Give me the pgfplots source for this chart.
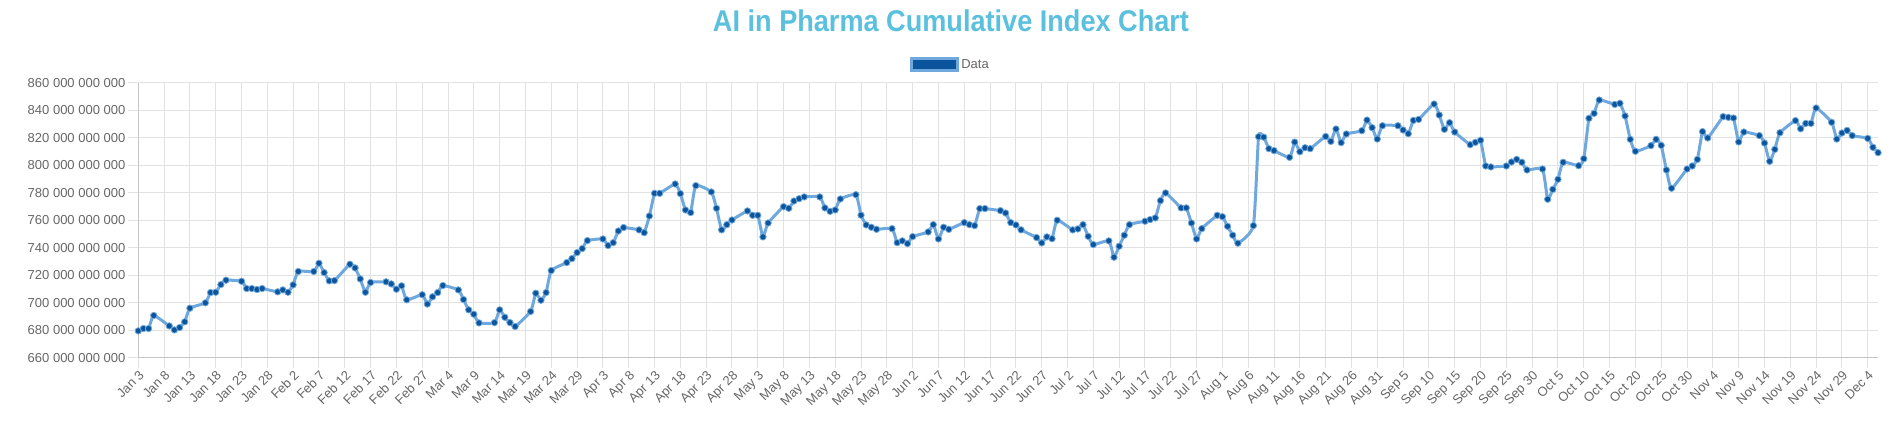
\documentclass[border=0pt]{standalone}
\usepackage{fontspec}
\setmainfont{Liberation Sans}
\newfontfamily\titlefont{Liberation Sans}
\usepackage{graphicx}
\usepackage{pgfplots}
\pgfplotsset{compat=1.18}

\definecolor{lineblue}{RGB}{111,168,220}
\definecolor{dotblue}{RGB}{12,84,155}
\definecolor{titleblue}{RGB}{91,192,222}
\definecolor{tickgray}{RGB}{102,102,102}
\definecolor{gridgray}{RGB}{226,226,226}

% d = days after Jan 3, v = index value (in 1e9)
\pgfplotstableread{
d v
0 679.4
1 681.1
2 681.1
3 690.6
6 683.0
7 680.1
8 681.8
9 686.0
10 695.9
13 699.8
14 707.3
15 707.5
16 713.1
17 716.3
20 715.5
21 710.2
22 710.2
23 709.5
24 710.2
27 707.8
28 709.2
29 707.5
30 712.9
31 722.6
34 722.6
35 728.6
36 721.8
37 715.8
38 716.0
41 727.9
42 725.2
43 717.2
44 707.5
45 714.6
48 715.1
49 713.6
50 709.7
51 712.2
52 702.0
55 705.7
56 698.9
57 704.2
58 707.3
59 712.4
62 709.2
63 702.2
64 694.7
65 691.5
66 685.2
69 685.4
70 694.7
71 689.3
72 685.4
73 682.6
76 693.5
77 706.8
78 701.7
79 707.3
80 723.3
83 729.1
84 732.0
85 736.4
86 739.3
87 745.1
90 746.3
91 741.5
92 743.6
93 752.1
94 754.6
97 752.9
98 750.9
99 763.0
100 779.5
101 779.5
104 786.3
105 779.3
106 767.4
107 765.5
108 785.1
111 780.5
112 768.6
113 752.9
114 756.7
115 760.1
118 766.7
119 763.5
120 763.5
121 747.8
122 757.9
125 769.8
126 768.6
127 773.9
128 775.6
129 776.9
132 776.9
133 768.9
134 766.4
135 767.4
136 775.4
139 778.5
140 763.6
141 756.5
142 754.8
143 753.3
146 753.8
147 743.6
148 744.9
149 742.9
150 748.0
153 751.4
154 756.7
155 746.3
156 754.8
157 753.3
160 758.2
161 756.7
162 756.0
163 768.4
164 768.4
167 766.9
168 765.2
169 758.2
170 756.5
171 752.9
174 747.3
175 743.4
176 747.8
177 746.5
178 759.9
181 752.9
182 753.6
183 756.7
184 748.2
185 742.2
188 744.9
189 733.0
190 741.0
191 749.0
192 756.7
195 759.2
196 760.4
197 761.6
198 774.2
199 779.8
202 768.9
203 768.9
204 757.9
205 746.3
206 753.8
209 763.5
210 762.5
211 755.5
212 749.0
213 743.2
216 756.0
217 820.7
218 820.4
219 812.0
220 810.6
223 805.7
224 816.8
225 809.8
226 812.7
227 812.0
230 820.9
231 817.3
232 826.3
233 816.4
234 822.7
237 825.1
238 832.8
239 827.3
240 819.0
241 828.7
244 828.7
245 825.6
246 822.9
247 832.6
248 833.3
251 844.5
252 836.5
253 826.1
254 830.9
255 824.1
258 814.9
259 816.6
260 818.1
261 799.4
262 798.7
265 799.4
266 802.3
267 804.2
268 802.1
269 796.5
272 797.2
273 775.2
274 782.4
275 789.7
276 802.1
279 799.6
280 804.7
281 834.1
282 837.7
283 847.4
286 844.2
287 845.0
288 835.8
289 818.8
290 810.1
293 814.2
294 818.8
295 814.4
296 796.5
297 783.2
300 797.2
301 799.4
302 804.2
303 824.4
304 819.8
307 835.3
308 834.8
309 834.3
310 816.9
311 824.1
314 821.5
315 816.1
316 802.8
317 811.5
318 823.6
321 832.4
322 826.5
323 830.4
324 830.4
325 841.6
328 831.2
329 819.0
330 823.4
331 825.3
332 821.5
335 819.5
336 813.0
337 809.1
}\indexdata

\begin{document}
\begin{tikzpicture}
\path[use as bounding box] (0,0) rectangle (1426.5pt,317.25pt);
\node[text=titleblue, inner sep=0pt] at (713.25pt,302pt)
  {\resizebox{357pt}{\height}{\titlefont\bfseries\fontsize{22.5pt}{27pt}\selectfont AI in Pharma Cumulative Index Chart}};
\begin{axis}[
    at={(103.7pt,49.1pt)}, anchor=south west,
    width=1304.8pt, height=206.1pt, scale only axis,
    xmin=0, xmax=337, ymin=660, ymax=860,
    axis x line*=bottom, axis y line*=left,
    axis line style={-, draw=gray!45, line width=0.75pt},
    grid=major,
    major grid style={draw=gridgray, line width=0.75pt},
    tick align=outside, major tick length=7.5pt,
    tick style={draw=gridgray, line width=0.75pt},
    ytick={660,680,...,860},
    yticklabels={660 000 000 000,680 000 000 000,700 000 000 000,720 000 000 000,740 000 000 000,760 000 000 000,780 000 000 000,800 000 000 000,820 000 000 000,840 000 000 000,860 000 000 000},
    xtick={0,5,...,335},
    xticklabels={Jan 3,Jan 8,Jan 13,Jan 18,Jan 23,Jan 28,Feb 2,Feb 7,Feb 12,Feb 17,Feb 22,Feb 27,Mar 4,Mar 9,Mar 14,Mar 19,Mar 24,Mar 29,Apr 3,Apr 8,Apr 13,Apr 18,Apr 23,Apr 28,May 3,May 8,May 13,May 18,May 23,May 28,Jun 2,Jun 7,Jun 12,Jun 17,Jun 22,Jun 27,Jul 2,Jul 7,Jul 12,Jul 17,Jul 22,Jul 27,Aug 1,Aug 6,Aug 11,Aug 16,Aug 21,Aug 26,Aug 31,Sep 5,Sep 10,Sep 15,Sep 20,Sep 25,Sep 30,Oct 5,Oct 10,Oct 15,Oct 20,Oct 25,Oct 30,Nov 4,Nov 9,Nov 14,Nov 19,Nov 24,Nov 29,Dec 4},
    ticklabel style={font=\fontsize{9.75pt}{11pt}\selectfont, text=tickgray},
    xticklabel style={rotate=45, anchor=north east, inner sep=1pt},
    yticklabel style={inner sep=2pt},
    legend style={at={(0.4436,1.066)}, anchor=west, draw=none, fill=none,
      inner sep=0pt, font=\fontsize{9.75pt}{11pt}\selectfont, text=tickgray},
    legend image code/.code={\draw[fill=dotblue, draw=lineblue, line width=2.25pt] (0pt,-4.5pt) rectangle (34pt,4.5pt);},
  ]
  \addplot[color=lineblue, line width=2.25pt, smooth, tension=0.3,
    mark=*, mark size=2.4pt,
    mark options={fill=dotblue, draw=lineblue, line width=0.6pt}]
    table[x=d, y=v] {\indexdata};
  \legend{Data}
\end{axis}
\end{tikzpicture}
\end{document}
